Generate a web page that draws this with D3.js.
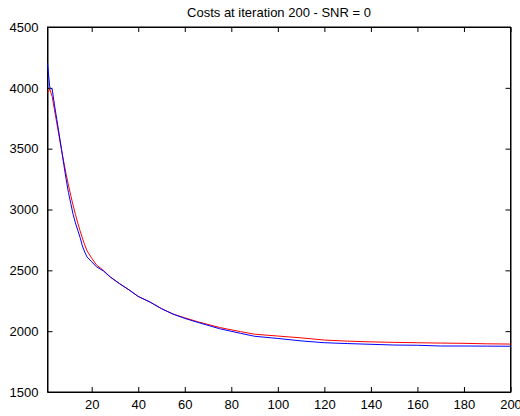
<!DOCTYPE html>
<html>
<head>
<meta charset="utf-8">
<script src="https://cdn.jsdelivr.net/npm/d3@7"></script>
<style>
  body { margin: 0; background: #fff; }
  text { font-family: "Liberation Sans", Arial, sans-serif; }
</style>
</head>
<body>
<div id="chart"></div>
<script>
var iterBlue = [1, 2, 3, 4, 5, 6, 7, 8, 9, 10, 11, 12, 13, 14, 15, 16, 17, 18, 20, 22, 25, 28, 32, 36, 40, 45, 50, 55, 60, 66, 75, 84, 90, 100, 110, 120, 130, 140, 150, 160, 170, 180, 190, 200];
var costBlue = [4200, 4000, 3990, 3860, 3740, 3620, 3500, 3370, 3250, 3140, 3050, 2960, 2890, 2830, 2770, 2700, 2650, 2610, 2570, 2530, 2495, 2445, 2390, 2340, 2285, 2240, 2185, 2140, 2105, 2070, 2020, 1982, 1958, 1940, 1920, 1905, 1898, 1892, 1886, 1884, 1878, 1878, 1877, 1876];

var iterRed = [1, 2, 3, 4, 5, 6, 7, 8, 9, 10, 11, 12, 13, 14, 15, 16, 17, 18, 20, 22, 25, 28, 32, 36, 40, 45, 50, 55, 60, 66, 75, 84, 90, 100, 110, 120, 130, 140, 150, 160, 170, 180, 190, 200];
var costRed = [3960, 3990, 3930, 3820, 3710, 3600, 3490, 3390, 3290, 3200, 3115, 3035, 2960, 2890, 2825, 2765, 2710, 2660, 2600, 2545, 2500, 2445, 2390, 2340, 2285, 2240, 2185, 2140, 2110, 2075, 2030, 1996, 1975, 1960, 1945, 1927, 1918, 1912, 1908, 1905, 1902, 1900, 1896, 1894];

var xTicks = [20, 40, 60, 80, 100, 120, 140, 160, 180, 200];
var yTicks = [1500, 2000, 2500, 3000, 3500, 4000, 4500];
var title = "Costs at iteration 200 - SNR = 0";

//---------------------------SVG--------------------------//
const W = 520, H = 416;
const mLeft = 47.5, mRight = 510.5, mTop = 27, mBottom = 392;
const svg = d3.select("#chart").append("svg")
    .attr("width", W)
    .attr("height", H);

//--------------------------SCALES------------------------//
const xScale = d3.scaleLinear().domain([1, 200]).range([mLeft, mRight]);
const yScale = d3.scaleLinear().domain([1500, 4500]).range([mBottom, mTop]);

//---------------------------AXES-------------------------//
const tick = 5;
const fmt = d3.format("d");
svg.append("g")
    .attr("class", "axis")
    .attr("transform", "translate(0," + mBottom + ")")
    .call(d3.axisBottom(xScale).tickValues(xTicks).tickFormat(fmt).tickSizeInner(-tick).tickSizeOuter(0).tickPadding(8));
svg.append("g")
    .attr("class", "axis")
    .attr("transform", "translate(0," + mTop + ")")
    .call(d3.axisTop(xScale).tickValues(xTicks).tickSizeInner(-tick).tickSizeOuter(0).tickFormat(""));
svg.append("g")
    .attr("class", "axis")
    .attr("transform", "translate(" + mLeft + ",0)")
    .call(d3.axisLeft(yScale).tickValues(yTicks).tickFormat(fmt).tickSizeInner(-tick).tickSizeOuter(0).tickPadding(9));
svg.append("g")
    .attr("class", "axis")
    .attr("transform", "translate(" + mRight + ",0)")
    .call(d3.axisRight(yScale).tickValues(yTicks).tickSizeInner(-tick).tickSizeOuter(0).tickFormat(""));

svg.selectAll(".axis path").attr("stroke", "#000");
svg.selectAll(".axis line").attr("stroke", "#000");
svg.selectAll(".axis text")
    .attr("fill", "#000")
    .style("font-size", "13px")
    .style("font-family", "'Liberation Sans', Arial, sans-serif");

// box
svg.append("rect")
    .attr("x", mLeft).attr("y", mTop)
    .attr("width", mRight - mLeft).attr("height", mBottom - mTop)
    .attr("fill", "none").attr("stroke", "#000").attr("stroke-width", 1);

//---------------------------LINES------------------------//
const line = d3.line()
    .x(function(d) { return xScale(d[0]); })
    .y(function(d) { return yScale(d[1]); });

svg.append("path")
    .attr("fill", "none")
    .attr("stroke", "#ff0000")
    .attr("stroke-width", 1)
    .attr("d", line(d3.zip(iterRed, costRed)));

svg.append("path")
    .attr("fill", "none")
    .attr("stroke", "#0000ff")
    .attr("stroke-width", 1)
    .attr("d", line(d3.zip(iterBlue, costBlue)));

//---------------------------TITLE------------------------//
svg.append("text")
    .attr("x", (mLeft + mRight) / 2)
    .attr("y", 17)
    .attr("text-anchor", "middle")
    .style("font-size", "13px")
    .text(title);
</script>
</body>
</html>
